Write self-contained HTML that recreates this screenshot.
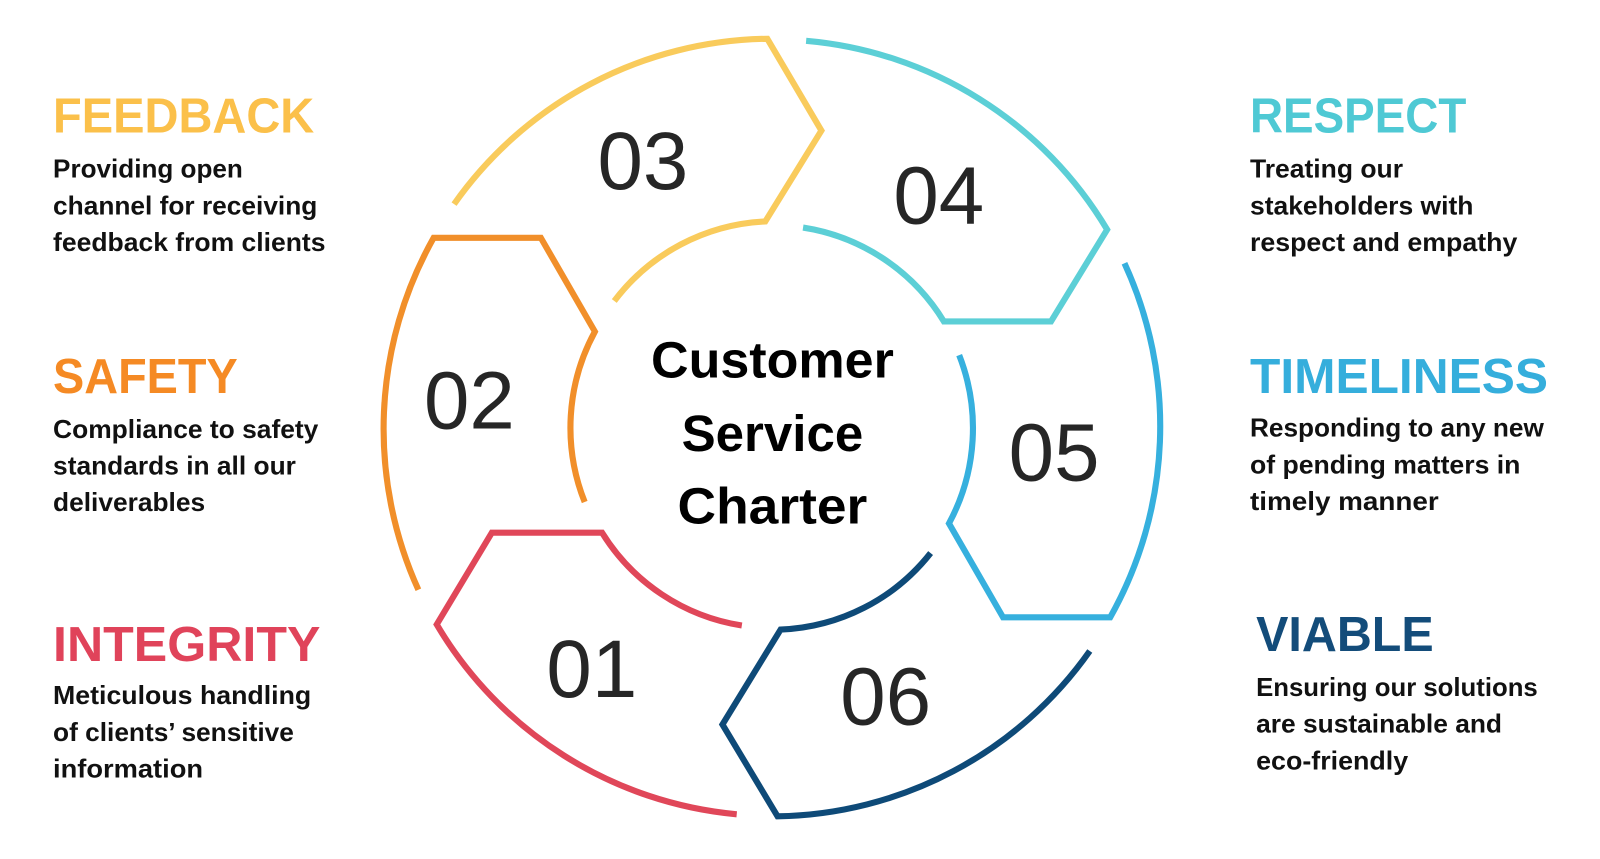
<!DOCTYPE html>
<html><head><meta charset="utf-8"><style>
html,body{margin:0;padding:0;background:#fff;}
svg{display:block;}
.h{font-family:"Liberation Sans",sans-serif;font-weight:bold;font-size:48px;}
.b{font-family:"Liberation Sans",sans-serif;font-weight:bold;font-size:25px;fill:#111;}
.n{font-family:"Liberation Sans",sans-serif;font-size:80px;fill:#262626;text-anchor:middle;}
.c{font-family:"Liberation Sans",sans-serif;font-weight:bold;font-size:50px;fill:#000;text-anchor:middle;}
path{fill:none;stroke-width:6;stroke-linejoin:miter;}
</style></head><body>
<svg width="1600" height="859" viewBox="0 0 1600 859" xmlns="http://www.w3.org/2000/svg">
<g transform="scale(1.0204)">
<path stroke="#F9CB5C" d="M445,200 A382,382 0 0 1 752,38 L805,128 L750,217 A197,197 0 0 0 602,295"/>
<path stroke="#F18F2A" d="M410,578 A382,382 0 0 1 425,233 L530,233 L583,325 A197,197 0 0 0 573,492"/>
<path stroke="#E04759" d="M727,613 A197,197 0 0 1 590,522 L482,522 L428,612 A382,382 0 0 0 722,798"/>
<path stroke="#0E4A78" d="M912,542 A197,197 0 0 1 765,617 L708,710 L762,800 A382,382 0 0 0 1068,638"/>
<path stroke="#36B0DE" d="M940,348 A197,197 0 0 1 930,513 L983,605 L1088,605 A382,382 0 0 0 1102,258"/>
<path stroke="#5CCFD6" d="M790,40 A382,382 0 0 1 1085,225 L1030,315 L925,315 A197,197 0 0 0 787,223"/>

<text class="n" x="630" y="185">03</text>
<text class="n" x="920" y="219">04</text>
<text class="n" x="460" y="420">02</text>
<text class="n" x="1033" y="471">05</text>
<text class="n" x="580" y="683">01</text>
<text class="n" x="868" y="710">06</text>

<text class="c" x="757" y="370" textLength="238" lengthAdjust="spacingAndGlyphs">Customer</text>
<text class="c" x="757" y="442" textLength="178" lengthAdjust="spacingAndGlyphs">Service</text>
<text class="c" x="757" y="513" textLength="186" lengthAdjust="spacingAndGlyphs">Charter</text>

<text class="h" x="52" y="130" fill="#FBC04A" textLength="256" lengthAdjust="spacingAndGlyphs">FEEDBACK</text>
<text class="b" x="52" y="174" textLength="186" lengthAdjust="spacingAndGlyphs">Providing open</text>
<text class="b" x="52" y="210" textLength="259" lengthAdjust="spacingAndGlyphs">channel for receiving</text>
<text class="b" x="52" y="246" textLength="267" lengthAdjust="spacingAndGlyphs">feedback from clients</text>

<text class="h" x="52" y="385" fill="#F58A24" textLength="181" lengthAdjust="spacingAndGlyphs">SAFETY</text>
<text class="b" x="52" y="429" textLength="260" lengthAdjust="spacingAndGlyphs">Compliance to safety</text>
<text class="b" x="52" y="465" textLength="238" lengthAdjust="spacingAndGlyphs">standards in all our</text>
<text class="b" x="52" y="501" textLength="149" lengthAdjust="spacingAndGlyphs">deliverables</text>

<text class="h" x="52" y="648" fill="#E0435A" textLength="262" lengthAdjust="spacingAndGlyphs">INTEGRITY</text>
<text class="b" x="52" y="690" textLength="253" lengthAdjust="spacingAndGlyphs">Meticulous handling</text>
<text class="b" x="52" y="726" textLength="236" lengthAdjust="spacingAndGlyphs">of clients’ sensitive</text>
<text class="b" x="52" y="762" textLength="147" lengthAdjust="spacingAndGlyphs">information</text>

<text class="h" x="1225" y="130" fill="#4FC9D4" textLength="212" lengthAdjust="spacingAndGlyphs">RESPECT</text>
<text class="b" x="1225" y="174" textLength="150" lengthAdjust="spacingAndGlyphs">Treating our</text>
<text class="b" x="1225" y="210" textLength="219" lengthAdjust="spacingAndGlyphs">stakeholders with</text>
<text class="b" x="1225" y="246" textLength="262" lengthAdjust="spacingAndGlyphs">respect and empathy</text>

<text class="h" x="1225" y="385" fill="#35AEDC" textLength="292" lengthAdjust="spacingAndGlyphs">TIMELINESS</text>
<text class="b" x="1225" y="428" textLength="288" lengthAdjust="spacingAndGlyphs">Responding to any new</text>
<text class="b" x="1225" y="464" textLength="265" lengthAdjust="spacingAndGlyphs">of pending matters in</text>
<text class="b" x="1225" y="500" textLength="185" lengthAdjust="spacingAndGlyphs">timely manner</text>

<text class="h" x="1231" y="638" fill="#134C7A" textLength="174" lengthAdjust="spacingAndGlyphs">VIABLE</text>
<text class="b" x="1231" y="682" textLength="276" lengthAdjust="spacingAndGlyphs">Ensuring our solutions</text>
<text class="b" x="1231" y="718" textLength="241" lengthAdjust="spacingAndGlyphs">are sustainable and</text>
<text class="b" x="1231" y="754" textLength="149" lengthAdjust="spacingAndGlyphs">eco-friendly</text>
</g>
</svg>
</body></html>
